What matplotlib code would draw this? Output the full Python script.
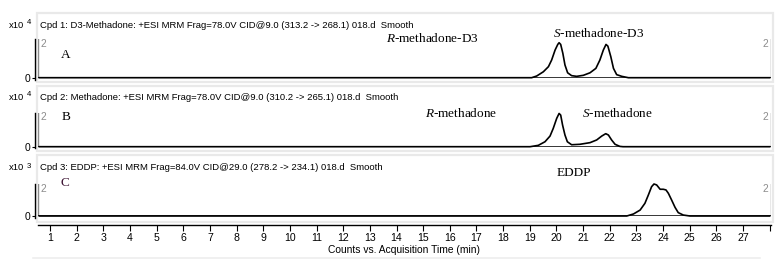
import matplotlib
matplotlib.use("Agg")
import matplotlib.pyplot as plt
from matplotlib.patches import Rectangle

W, H = 782, 260

# retention time (min) and counts (x10^4)
t_d3 = [0.6, 19.07, 19.26, 19.51, 19.70, 19.82, 19.95, 20.05, 20.10, 20.16,
        20.24, 20.32, 20.42, 20.57, 20.76, 21.01, 21.26, 21.48, 21.63, 21.76,
        21.86, 21.93, 22.04, 22.14, 22.26, 22.45, 22.70, 28.0]
i_d3 = [0.0, 0.0, 0.10, 0.35, 0.65, 1.04, 1.63, 1.96, 2.06, 1.96,
        1.44, 0.75, 0.29, 0.12, 0.08, 0.14, 0.29, 0.55, 1.04, 1.63,
        1.96, 1.86, 1.24, 0.55, 0.18, 0.08, 0.0, 0.0]

# methadone, counts x10^4
t_met = [0.6, 19.01, 19.32, 19.57, 19.76, 19.88, 20.01, 20.10, 20.16, 20.23,
         20.32, 20.41, 20.57, 20.88, 21.26, 21.51, 21.70, 21.85, 21.95, 22.07,
         22.20, 22.38, 22.50, 28.0]
i_met = [0.0, 0.0, 0.09, 0.33, 0.71, 1.22, 1.89, 2.22, 2.11, 1.45,
         0.78, 0.33, 0.13, 0.16, 0.27, 0.45, 0.71, 0.87, 0.78, 0.45,
         0.16, 0.02, 0.0, 0.0]

# EDDP, counts x10^3
t_eddp = [0.6, 22.64, 22.89, 23.14, 23.32, 23.45, 23.57, 23.66, 23.76, 23.89,
          24.01, 24.11, 24.20, 24.32, 24.45, 24.57, 24.76, 25.01, 28.0]
i_eddp = [0.0, 0.0, 0.15, 0.44, 0.94, 1.56, 2.17, 2.37, 2.30, 1.98,
          1.98, 1.93, 1.68, 1.19, 0.64, 0.25, 0.07, 0.0, 0.0]

headers = [
    "Cpd 1: D3-Methadone: +ESI MRM Frag=78.0V CID@9.0 (313.2 -> 268.1) 018.d  Smooth",
    "Cpd 2: Methadone: +ESI MRM Frag=78.0V CID@9.0 (310.2 -> 265.1) 018.d  Smooth",
    "Cpd 3: EDDP: +ESI MRM Frag=84.0V CID@29.0 (278.2 -> 234.1) 018.d  Smooth",
]
exponents = ["4", "4", "3"]
letters = ["A", "B", "C"]
xticks = list(range(1, 29))
xticklabels = [str(v) for v in range(1, 28)] + [""]

narrow = ["Liberation Sans", "DejaVu Sans"]
plt.rcParams["font.family"] = ["Liberation Serif", "DejaVu Serif"]
plt.rcParams["mathtext.fontset"] = "custom"
plt.rcParams["mathtext.rm"] = "Liberation Serif"
plt.rcParams["mathtext.it"] = "Liberation Serif:italic"


def fx(px):
    return px / W


def fy(py):
    return 1 - py / H


fig = plt.figure(figsize=(W / 100, H / 100), dpi=100)
fig.patch.set_facecolor("white")

# panel frames (px): top, bottom
frames = [(13, 82), (86, 151), (155, 222)]
for top, bot in frames:
    fig.patches.append(Rectangle((fx(37), fy(bot)), fx(773) - fx(37),
                                 fy(top) - fy(bot), transform=fig.transFigure,
                                 facecolor="white", edgecolor="#e9e9e9",
                                 lw=1.6, zorder=0))

XL, XR = 38, 771
xlim = ((XL - 23.35) / 26.654, (XR - 23.35) / 26.654)

# (baseline px, top px, y top value)
geo = [(77.7, 39, 2.28), (146.7, 113, 2.25), (216, 184, 2.37)]
header_y = [25, 97, 168]
series = [(t_d3, i_d3), (t_met, i_met), (t_eddp, i_eddp)]
axes = []
for k, (base, top, ytop) in enumerate(geo):
    ax = fig.add_axes([fx(XL), fy(base), fx(XR) - fx(XL), fy(top) - fy(base)])
    ax.set_zorder(3)
    ax.set_facecolor("none")
    ax.set_xlim(*xlim)
    ax.set_ylim(0, ytop)
    for s in ["top", "right", "bottom"]:
        ax.spines[s].set_visible(False)
    ax.spines["left"].set_position(("outward", 2.2))
    ax.spines["left"].set_bounds(-0.12, ytop)
    ax.spines["left"].set_linewidth(1.0)
    ax.set_xticks([])
    ax.set_yticks([0])
    ax.set_yticklabels(["0"], fontfamily=narrow, fontsize=7.4)
    ax.tick_params(axis="y", length=2.5, width=0.8, pad=1)
    ax.axvline(xlim[0], color="#8c8c8c", lw=1.0)
    ax.axvline(xlim[1], color="#8c8c8c", lw=1.0)
    ax.axhline(0, color="black", lw=1.1)
    t, v = series[k]
    ax.plot(t, v, color="black", lw=1.2, clip_on=False)
    tr = ax.get_yaxis_transform()
    ax.text(0.004, 2, "2", transform=tr, ha="left", va="center",
            fontfamily=narrow, fontsize=7.4, color="#8c8c8c")
    ax.text(0.996, 2, "2", transform=tr, ha="right", va="center",
            fontfamily=narrow, fontsize=7.4, color="#8c8c8c")
    fig.text(fx(40), fy(header_y[k]), headers[k], ha="left", va="center",
             fontfamily=narrow, fontsize=6.8, zorder=4)
    fig.text(fx(24), fy(header_y[k]), "x10", ha="right", va="center",
             fontfamily=narrow, fontsize=6.8)
    fig.text(fx(26.5), fy(header_y[k] - 2), exponents[k], ha="left",
             va="center", fontfamily=narrow, fontsize=5.6)
    axes.append(ax)

ax1, ax2, ax3 = axes
lab = dict(fontsize=9.5, va="center", ha="left", clip_on=False)
ax1.text(1.60, 1.34, letters[0], ha="center", va="center", fontsize=9.5)
ax2.text(1.60, 1.98, letters[1], ha="center", va="center", fontsize=9.5)
ax3.text(1.56, 2.44, letters[2], ha="center", va="center", fontsize=9.5,
         color="#3a1030")
ax1.text(13.61, 2.28, "$R$-methadone-D3", **lab)
ax1.text(19.87, 2.63, "$S$-methadone-D3", **lab)
ax2.text(15.07, 2.21, "$R$-methadone", **lab)
ax2.text(20.96, 2.21, "$S$-methadone", **lab)
ax3.text(20.02, 3.19, "EDDP", **lab)

# shared time axis
axb = fig.add_axes([fx(XL), fy(225), fx(XR) - fx(XL), 0.0001])
axb.set_zorder(3)
axb.set_xlim(*xlim)
axb.set_yticks([])
for s in ["top", "right", "left"]:
    axb.spines[s].set_visible(False)
axb.spines["bottom"].set_linewidth(1.0)
axb.set_xticks(xticks)
axb.set_xticklabels(xticklabels, fontfamily=narrow, fontsize=7.6)
axb.tick_params(axis="x", length=4, width=0.8, pad=1.5)
axb.set_xlabel("Counts vs. Acquisition Time (min)", fontfamily=narrow,
               fontsize=7.4, labelpad=2)

fig.add_artist(plt.Line2D([fx(33), fx(760)], [fy(258), fy(258)],
                          color="#eeeeee", lw=1.2))

fig.savefig("out.png", dpi=100)
